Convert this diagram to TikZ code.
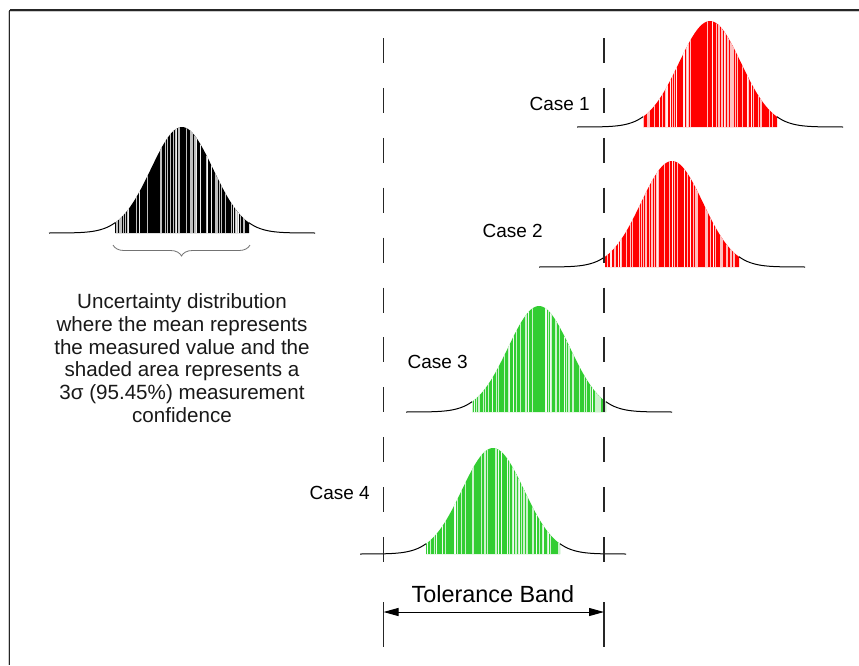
\documentclass[tikz,border=0pt]{standalone}
\usepackage{fontspec}
\setmainfont{Liberation Sans}
\usetikzlibrary{decorations.pathreplacing,arrows.meta}
\definecolor{limeg}{RGB}{50,205,50}
\tikzset{
  declare function={g(\x)=106*exp(-0.5*(\x/31)^2);},
  tail/.style={black,line width=1pt},
  tolline/.style={black!85,line width=1.1pt},
  caselabel/.style={font=\fontsize{19}{23}\selectfont,anchor=east,inner sep=0pt},
}
\newcommand\bellcurve[4]{%
  \begin{scope}[shift={(#1,#2)}]
    \fill[#3] plot[domain=-67:67,samples=60] (\x,{-g(\x)}) -- (67,0) -- (-67,0) -- cycle;
    \begin{scope}
      \clip plot[domain=-67:67,samples=60] (\x,{-g(\x)}) -- (67,0) -- (-67,0) -- cycle;
      \pgfmathsetseed{#4}
      \foreach \i in {1,...,60}{%
        \pgfmathsetmacro\xx{-67+134*rnd}%
        \pgfmathsetmacro\ww{0.3+0.7*rnd}%
        \draw[white,line width=\ww pt,opacity=0.75] (\xx,1) -- (\xx,-110);}
    \end{scope}
    \draw[tail] plot[domain=-133:-67,samples=40] (\x,{-g(\x)});
    \draw[tail] plot[domain=67:133,samples=40] (\x,{-g(\x)});
  \end{scope}}
\begin{document}
\begin{tikzpicture}[x=1pt,y=-1pt]
\useasboundingbox (0,0) rectangle (859,665);
\fill[white] (0,0) rectangle (859,665);
% frame
\draw[black!20,line width=1pt] (10,11.5) -- (859,11.5);
\draw[black!20,line width=1pt] (8,11) -- (8,665);
\draw[black!85,line width=1.2pt] (9.5,10) -- (859,10);
\draw[black!85,line width=1.2pt] (9.5,10) -- (9.5,665);

% reference distribution
\bellcurve{182}{233}{black}{3}
\draw[decorate,decoration={brace,mirror,amplitude=11pt},black!55,line width=0.8pt]
  (113,245) -- (250,245);
\node[align=center,font=\fontsize{20.6}{22.7}\selectfont,text=black!90] (desc) at (182,358)
  {Uncertainty distribution\\where the mean represents\\the measured value and the\\shaded area represents a\\3σ (95.45\%) measurement\\confidence};

% cases
\bellcurve{710}{127}{red}{11}
\bellcurve{672}{267}{red}{12}
\bellcurve{539}{412}{limeg}{13}
\bellcurve{493}{554}{limeg}{14}

\node[caselabel] (c1) at (590,104) {Case 1};
\node[caselabel] (c2) at (543,231) {Case 2};
\node[caselabel] (c3) at (468,362) {Case 3};
\node[caselabel] (c4) at (370,493) {Case 4};

% tolerance band
\coordinate (lt) at (383.5,38);
\coordinate (lb) at (383.5,562);
\coordinate (rt) at (604,38);
\coordinate (rb) at (604,562);
\draw[tolline,dash pattern=on 25pt off 24.9pt] (lt) -- (lb);
\draw[tolline,dash pattern=on 25pt off 24.9pt] (rt) -- (rb);
\coordinate (le1) at (383.5,602);
\coordinate (le2) at (383.5,647);
\coordinate (re1) at (604,602);
\coordinate (re2) at (604,647);
\draw[tolline] (le1) -- (le2);
\draw[tolline] (re1) -- (re2);
\coordinate (al) at (383.5,612);
\coordinate (ar) at (604,612);
\draw[black,line width=1pt,{Triangle[length=15pt,width=8pt]}-{Triangle[length=15pt,width=8pt]}] (al) -- (ar);
\node[font=\fontsize{23.4}{26}\selectfont] (tb) at (493,594) {Tolerance Band};
\end{tikzpicture}
\end{document}
